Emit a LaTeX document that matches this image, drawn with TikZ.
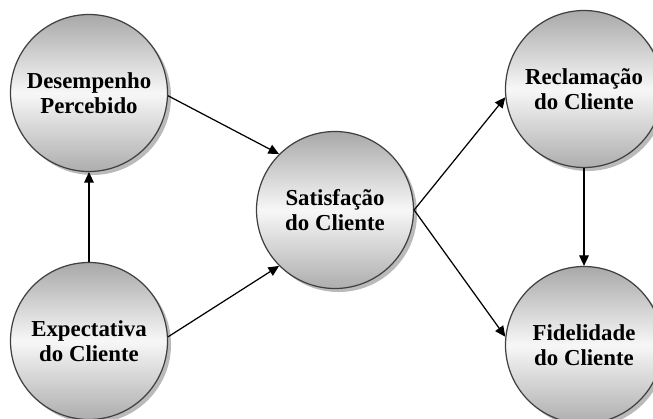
\documentclass[tikz,border=0pt]{standalone}
\usepackage{fontspec}
\setmainfont{Liberation Serif}
\usetikzlibrary{arrows.meta,shadows}

\pgfdeclareverticalshading{ballgray}{100bp}{color(0bp)=(black!32); color(25bp)=(black!32);
    color(50bp)=(black!3); color(75bp)=(black!34); color(100bp)=(black!34)}

\begin{document}
\begin{tikzpicture}[
    circ/.style={circle, draw=black!75, line width=0.7pt, minimum size=3.14cm, align=center,
        shading=ballgray, shade,
        drop shadow={shadow xshift=2pt, shadow yshift=-2pt, fill=black!45, opacity=0.6},
        font=\fontsize{13}{14}\selectfont\bfseries},
    arrow/.style={-{Triangle[length=6pt, width=5.5pt]}, line width=0.7pt}
]
    \useasboundingbox (0,0) rectangle (13.06,8.36);

    % Left column
    \node[circ] (desemp) at (1.78,6.50) {Desempenho \\ Percebido};
    \node[circ] (expect) at (1.78,1.54) {Expectativa \\ do Cliente};

    % Centre
    \node[circ] (satisf) at (6.70,4.16) {Satisfação \\ do Cliente};

    % Right column
    \node[circ] (reclam) at (11.68,6.58) {Reclamação \\ do Cliente};
    \node[circ] (fidel) at (11.68,1.46) {Fidelidade \\ do Cliente};

    % Arrows
    \draw[arrow] (expect.north) -- (desemp.south);
    \draw[arrow] (desemp.-2) -- (satisf.135);
    \draw[arrow] (expect.3) -- (satisf.225);
    \draw[arrow] (satisf.east) -- (reclam.186);
    \draw[arrow] (satisf.east) -- (fidel.174);
    \draw[arrow] (reclam.south) -- (fidel.north);

\end{tikzpicture}
\end{document}
